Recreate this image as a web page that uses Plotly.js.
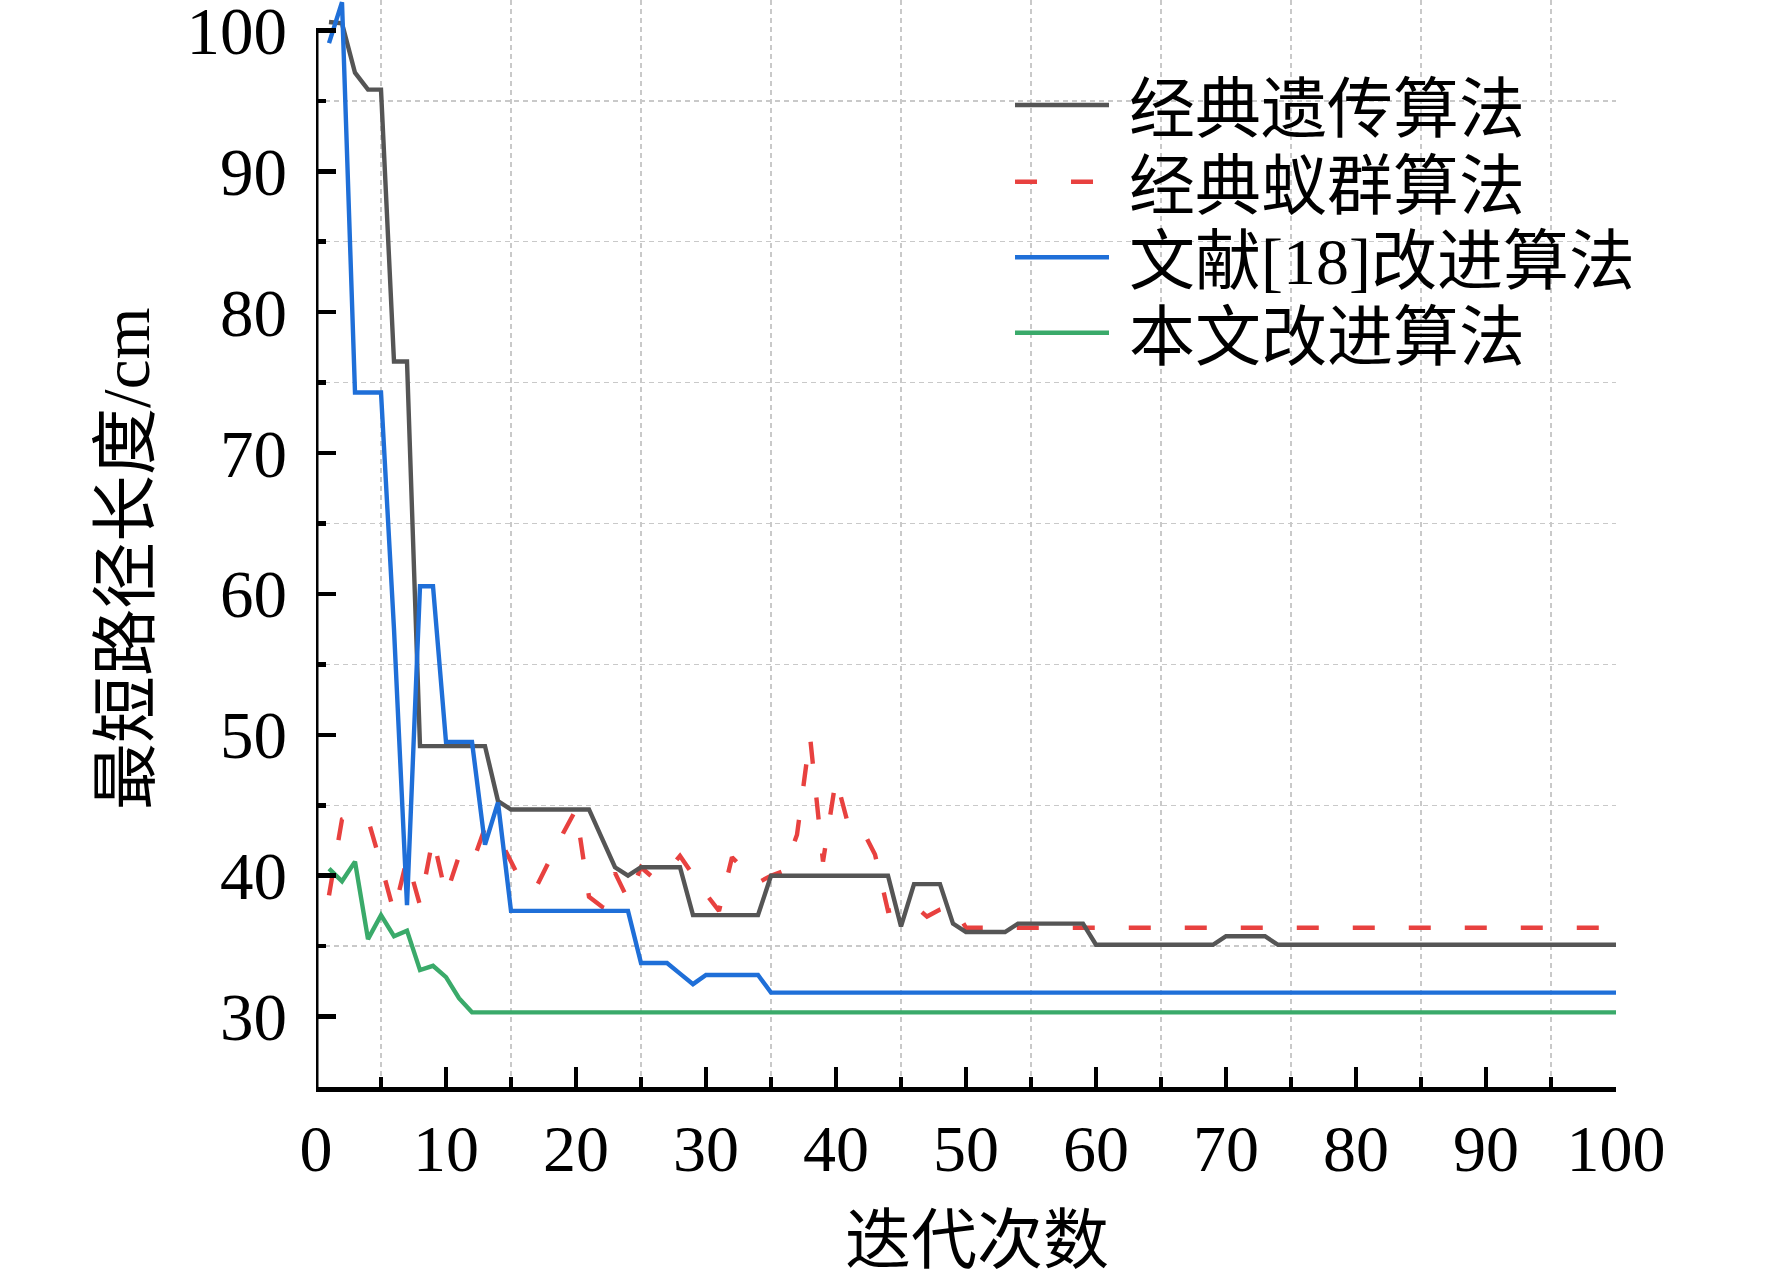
<!DOCTYPE html>
<html>
<head>
<meta charset="utf-8">
<script src="https://cdn.plot.ly/plotly-3.0.1.min.js"></script>
<style>
  body { margin: 0; background: #fff; }
  #main-plot { width: 1772px; height: 1279px; }
</style>
</head>
<body>
<div id="main-plot"></div>
<script>
const iterations = [
  1, 2, 3, 4, 5, 6, 7, 8, 9, 10,
  11, 12, 13, 14, 15, 16, 17, 18, 19, 20,
  21, 22, 23, 24, 25, 26, 27, 28, 29, 30,
  31, 32, 33, 34, 35, 36, 37, 38, 39, 40,
  41, 42, 43, 44, 45, 46, 47, 48, 49, 50,
  51, 52, 53, 54, 55, 56, 57, 58, 59, 60,
  61, 62, 63, 64, 65, 66, 67, 68, 69, 70,
  71, 72, 73, 74, 75, 76, 77, 78, 79, 80,
  81, 82, 83, 84, 85, 86, 87, 88, 89, 90,
  91, 92, 93, 94, 95, 96, 97, 98, 99, 100
];

// 经典遗传算法
const gaLength = [
  100.6, 100.5, 97.0, 95.8, 95.8, 76.5, 76.5, 49.2, 49.2, 49.2,
  49.2, 49.2, 49.2, 45.3, 44.7, 44.7, 44.7, 44.7, 44.7, 44.7,
  44.7, 42.65, 40.6, 40.0, 40.6, 40.6, 40.6, 40.6, 37.2, 37.2,
  37.2, 37.2, 37.2, 37.2, 40.0, 40.0, 40.0, 40.0, 40.0, 40.0,
  40.0, 40.0, 40.0, 40.0, 36.4, 39.4, 39.4, 39.4, 36.6, 36.0,
  36.0, 36.0, 36.0, 36.6, 36.6, 36.6, 36.6, 36.6, 36.6, 35.1,
  35.1, 35.1, 35.1, 35.1, 35.1, 35.1, 35.1, 35.1, 35.1, 35.7,
  35.7, 35.7, 35.7, 35.1, 35.1, 35.1, 35.1, 35.1, 35.1, 35.1,
  35.1, 35.1, 35.1, 35.1, 35.1, 35.1, 35.1, 35.1, 35.1, 35.1,
  35.1, 35.1, 35.1, 35.1, 35.1, 35.1, 35.1, 35.1, 35.1, 35.1
];

// 经典蚁群算法
const acoLength = [
  38.6, 44.0, 44.3, 44.0, 40.8, 37.4, 41.2, 37.9, 42.7, 38.6,
  41.4, 40.8, 43.4, 42.8, 41.0, 39.2, 39.3, 41.2, 43.0, 44.7,
  38.5, 37.8, 40.2, 38.3, 40.6, 39.8, 40.3, 41.4, 40.0, 38.7,
  37.5, 41.3, 40.4, 39.5, 40.0, 40.35, 42.9, 49.9, 41.0, 46.9,
  43.4, 43.3, 41.5, 37.5, 37.7, 37.9, 37.1, 37.6, 37.9, 36.3,
  36.3, 36.3, 36.3, 36.3, 36.3, 36.3, 36.3, 36.3, 36.3, 36.3,
  36.3, 36.3, 36.3, 36.3, 36.3, 36.3, 36.3, 36.3, 36.3, 36.3,
  36.3, 36.3, 36.3, 36.3, 36.3, 36.3, 36.3, 36.3, 36.3, 36.3,
  36.3, 36.3, 36.3, 36.3, 36.3, 36.3, 36.3, 36.3, 36.3, 36.3,
  36.3, 36.3, 36.3, 36.3, 36.3, 36.3, 36.3, 36.3, 36.3, 36.3
];

// 文献[18]改进算法
const refLength = [
  99.1, 102.0, 74.3, 74.3, 74.3, 57.5, 37.9, 60.55, 60.55, 49.5,
  49.5, 49.5, 42.2, 45.2, 37.5, 37.5, 37.5, 37.5, 37.5, 37.5,
  37.5, 37.5, 37.5, 37.5, 33.8, 33.8, 33.8, 33.05, 32.3, 32.95,
  32.95, 32.95, 32.95, 32.95, 31.7, 31.7, 31.7, 31.7, 31.7, 31.7,
  31.7, 31.7, 31.7, 31.7, 31.7, 31.7, 31.7, 31.7, 31.7, 31.7,
  31.7, 31.7, 31.7, 31.7, 31.7, 31.7, 31.7, 31.7, 31.7, 31.7,
  31.7, 31.7, 31.7, 31.7, 31.7, 31.7, 31.7, 31.7, 31.7, 31.7,
  31.7, 31.7, 31.7, 31.7, 31.7, 31.7, 31.7, 31.7, 31.7, 31.7,
  31.7, 31.7, 31.7, 31.7, 31.7, 31.7, 31.7, 31.7, 31.7, 31.7,
  31.7, 31.7, 31.7, 31.7, 31.7, 31.7, 31.7, 31.7, 31.7, 31.7
];

// 本文改进算法
const oursLength = [
  40.5, 39.6, 41.0, 35.5, 37.2, 35.7, 36.1, 33.3, 33.6, 32.8,
  31.3, 30.3, 30.3, 30.3, 30.3, 30.3, 30.3, 30.3, 30.3, 30.3,
  30.3, 30.3, 30.3, 30.3, 30.3, 30.3, 30.3, 30.3, 30.3, 30.3,
  30.3, 30.3, 30.3, 30.3, 30.3, 30.3, 30.3, 30.3, 30.3, 30.3,
  30.3, 30.3, 30.3, 30.3, 30.3, 30.3, 30.3, 30.3, 30.3, 30.3,
  30.3, 30.3, 30.3, 30.3, 30.3, 30.3, 30.3, 30.3, 30.3, 30.3,
  30.3, 30.3, 30.3, 30.3, 30.3, 30.3, 30.3, 30.3, 30.3, 30.3,
  30.3, 30.3, 30.3, 30.3, 30.3, 30.3, 30.3, 30.3, 30.3, 30.3,
  30.3, 30.3, 30.3, 30.3, 30.3, 30.3, 30.3, 30.3, 30.3, 30.3,
  30.3, 30.3, 30.3, 30.3, 30.3, 30.3, 30.3, 30.3, 30.3, 30.3
];

const seriesNames = ['经典遗传算法', '经典蚁群算法', '文献[18]改进算法', '本文改进算法'];
const seriesColors = ['#555555', '#e8413f', '#1f6fd8', '#3aaa6a'];
const seriesDashes = ['solid', '22px,34px', 'solid', 'solid'];

const xTicks = [0, 10, 20, 30, 40, 50, 60, 70, 80, 90, 100];
const xMinorTicks = [5, 15, 25, 35, 45, 55, 65, 75, 85, 95];
const yTicks = [30, 40, 50, 60, 70, 80, 90, 100];
const yMinorTicks = [35, 45, 55, 65, 75, 85, 95];
const xTitle = '迭代次数';
const yTitle = '最短路径长度/cm';

const FONT = 'Liberation Serif, "Noto Sans CJK SC", serif';
const LINE_W = 4.4;

function run() {
  const values = [gaLength, acoLength, refLength, oursLength];
  const traces = values.map((ys, i) => ({
    x: iterations,
    y: ys,
    type: 'scatter',
    mode: 'lines',
    name: seriesNames[i],
    line: {color: seriesColors[i], width: LINE_W, dash: seriesDashes[i]},
    showlegend: false
  }));
  // red under gray, green on top
  const order = [1, 0, 2, 3];
  const data = order.map(i => traces[i]);

  const minorStyle = {
    ticks: 'inside', ticklen: 10, tickwidth: 4.5, tickcolor: '#000',
    showgrid: true, gridcolor: '#c9c9c9', gridwidth: 1.4, griddash: '5px,4px'
  };

  const shapes = [
    // white box behind the legend
    {type: 'rect', xref: 'paper', yref: 'paper', x0: 0.526, x1: 1.12, y0: 0.642, y1: 1.0,
     fillcolor: '#ffffff', line: {width: 0}, layer: 'between'},
    // left axis line, stops at 100
    {type: 'line', xref: 'x', yref: 'y', x0: 0, x1: 0, y0: 25, y1: 100,
     line: {color: '#000', width: 5}, layer: 'above'}
  ];
  const annotations = [
    {text: yTitle, xref: 'paper', yref: 'y', x: -0.146, y: 62.5, textangle: -90,
     xanchor: 'center', yanchor: 'middle', showarrow: false, font: {family: FONT, size: 67, color: '#000'}},
    {text: xTitle, xref: 'paper', yref: 'paper', x: 0.5085, y: -0.141,
     xanchor: 'center', yanchor: 'middle', showarrow: false, font: {family: FONT, size: 66, color: '#000'}}
  ];

  const legendLineY = [0.9034, 0.8328, 0.7633, 0.6939];
  seriesNames.forEach((name, i) => {
    shapes.push({type: 'line', xref: 'paper', yref: 'paper', x0: 0.5377, x1: 0.61,
      y0: legendLineY[i], y1: legendLineY[i],
      line: {color: seriesColors[i], width: LINE_W, dash: seriesDashes[i]}});
    annotations.push({text: name, xref: 'paper', yref: 'paper', x: 0.6238, y: legendLineY[i] - 0.004,
      xanchor: 'left', yanchor: 'middle', showarrow: false,
      font: {family: FONT, size: 66, color: '#000'}});
  });

  const layout = {
    width: 1772,
    height: 1279,
    margin: {l: 316, r: 156, t: 0, b: 192},
    paper_bgcolor: '#fff',
    plot_bgcolor: '#fff',
    showlegend: false,
    xaxis: {
      range: [0, 100],
      tickmode: 'array',
      tickvals: xTicks,
      ticks: 'inside', ticklen: 20, tickwidth: 4.5, tickcolor: '#000',
      ticklabelstandoff: 0,
      ticklabeloverflow: 'allow',
      showgrid: false, zeroline: false,
      showline: true, linecolor: '#000', linewidth: 5,
      tickfont: {family: FONT, size: 66, color: '#000'},
      minor: Object.assign({tickmode: 'array', tickvals: xMinorTicks}, minorStyle)
    },
    yaxis: {
      range: [25, 102.16],
      tickmode: 'array',
      tickvals: yTicks,
      ticks: 'inside', ticklen: 20, tickwidth: 4.5, tickcolor: '#000',
      ticklabelstandoff: 28,
      ticklabeloverflow: 'allow',
      showgrid: false, zeroline: false, showline: false,
      tickfont: {family: FONT, size: 67, color: '#000'},
      minor: Object.assign({tickmode: 'array', tickvals: yMinorTicks}, minorStyle)
    },
    shapes: shapes,
    annotations: annotations
  };

  Plotly.newPlot('main-plot', data, layout, {staticPlot: true});
}
run();
</script>
</body>
</html>
